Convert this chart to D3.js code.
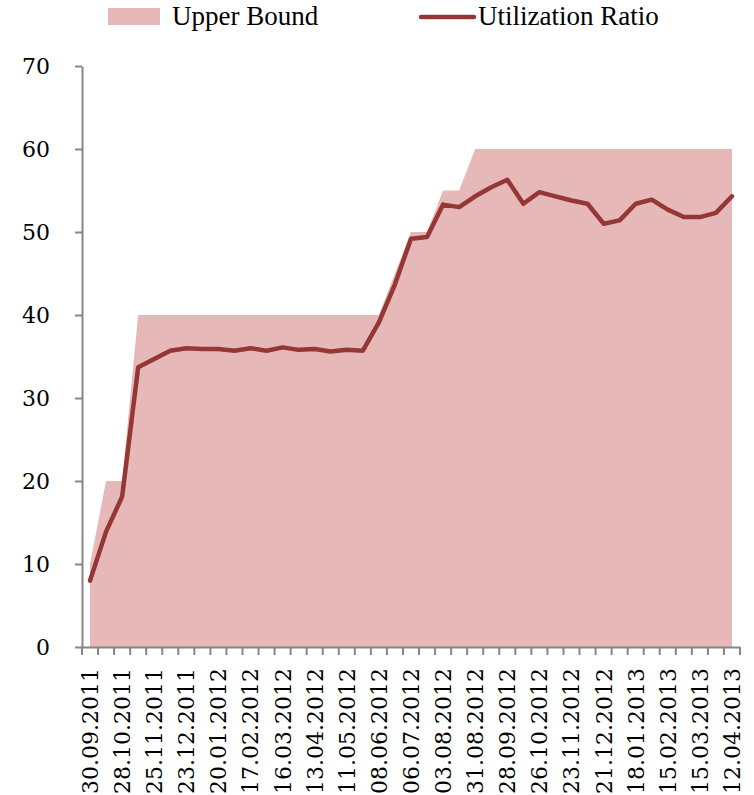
<!DOCTYPE html>
<html><head><meta charset="utf-8">
<script src="https://cdn.jsdelivr.net/npm/d3@7/dist/d3.min.js"></script>
<style>body{margin:0;background:#fff}</style>
</head><body>
<svg id="chart" width="754" height="795"></svg>
<script>
const categories = ["30.09.2011","14.10.2011","28.10.2011","11.11.2011","25.11.2011","09.12.2011","23.12.2011","06.01.2012","20.01.2012","03.02.2012","17.02.2012","02.03.2012","16.03.2012","30.03.2012","13.04.2012","27.04.2012","11.05.2012","25.05.2012","08.06.2012","22.06.2012","06.07.2012","20.07.2012","03.08.2012","17.08.2012","31.08.2012","14.09.2012","28.09.2012","12.10.2012","26.10.2012","09.11.2012","23.11.2012","07.12.2012","21.12.2012","04.01.2013","18.01.2013","01.02.2013","15.02.2013","01.03.2013","15.03.2013","29.03.2013","12.04.2013"];
const upperBound = [10,20,20,40,40,40,40,40,40,40,40,40,40,40,40,40,40,40,40,45,50,50,55,55,60,60,60,60,60,60,60,60,60,60,60,60,60,60,60,60,60];
const utilization = [8.0,13.9,18.1,33.7,34.7,35.7,36.0,35.9,35.9,35.7,36.0,35.7,36.1,35.8,35.9,35.6,35.8,35.7,39.1,43.7,49.2,49.4,53.3,53.0,54.3,55.4,56.3,53.4,54.8,54.3,53.8,53.4,51.0,51.4,53.4,53.9,52.7,51.8,51.8,52.3,54.3];
const yTicks = [0,10,20,30,40,50,60,70];
const seriesNames = ["Upper Bound","Utilization Ratio"];

const svg = d3.select("#chart");
const axisColor = "#868686";
const areaColor = "#e6b8b7";
const lineColor = "#953735";
const numFont = "'DejaVu Serif', serif";

const x = d3.scaleBand().domain(d3.range(categories.length)).range([82, 740]).padding(0);
const y = d3.scaleLinear().domain([0, 70]).range([647, 66]);
const cx = i => x(i) + x.bandwidth() / 2;

// area
const area = d3.area().x((d, i) => cx(i)).y0(y(0)).y1(d => y(d));
svg.append("path").datum(upperBound).attr("d", area).attr("fill", areaColor);

// line
const line = d3.line().x((d, i) => cx(i)).y(d => y(d));
svg.append("path").datum(utilization).attr("d", line)
  .attr("fill", "none").attr("stroke", lineColor).attr("stroke-width", 4.5)
  .attr("stroke-linejoin", "round").attr("stroke-linecap", "round");

// y axis
const yAxis = svg.append("g").attr("transform", "translate(82,0)")
  .call(d3.axisLeft(y).tickValues(yTicks).tickSize(7).tickSizeOuter(0).tickPadding(25));
yAxis.select(".domain").attr("stroke", axisColor).attr("stroke-width", 2);
yAxis.selectAll(".tick line").attr("stroke", axisColor).attr("stroke-width", 2);
yAxis.selectAll(".tick text").attr("fill", "#000").style("font-family", numFont).style("font-size", "22px");

// x axis
const xAxis = svg.append("g").attr("transform", "translate(0,647)")
  .call(d3.axisBottom(x).tickSize(0).tickSizeOuter(0)
    .tickFormat(i => i % 2 === 0 ? categories[i] : ""));
xAxis.select(".domain").attr("stroke", axisColor).attr("stroke-width", 2);
xAxis.selectAll(".tick text")
  .attr("fill", "#000")
  .style("font-family", numFont).style("font-size", "22px")
  .attr("text-anchor", "end")
  .attr("transform", "rotate(-90)")
  .attr("x", -21).attr("y", 0).attr("dy", "0.36em");
// boundary tick marks
const bounds = d3.range(categories.length + 1).map(i => i < categories.length ? x(i) : x.range()[1]);
xAxis.selectAll(".bt").data(bounds).enter().append("line")
  .attr("x1", d => d).attr("x2", d => d).attr("y1", 0).attr("y2", 8)
  .attr("stroke", axisColor).attr("stroke-width", 2);

// legend
const lg = svg.append("g");
lg.append("rect").attr("x", 108).attr("y", 8).attr("width", 52).attr("height", 17).attr("fill", areaColor);
lg.append("text").attr("x", 172).attr("y", 25).text(seriesNames[0])
  .style("font-family", "'Liberation Serif', serif").style("font-size", "27px");
lg.append("line").attr("x1", 421).attr("x2", 474).attr("y1", 17).attr("y2", 17)
  .attr("stroke", lineColor).attr("stroke-width", 4.5).attr("stroke-linecap", "round");
lg.append("text").attr("x", 478).attr("y", 25).text(seriesNames[1])
  .style("font-family", "'Liberation Serif', serif").style("font-size", "27px");
</script>
</body></html>
